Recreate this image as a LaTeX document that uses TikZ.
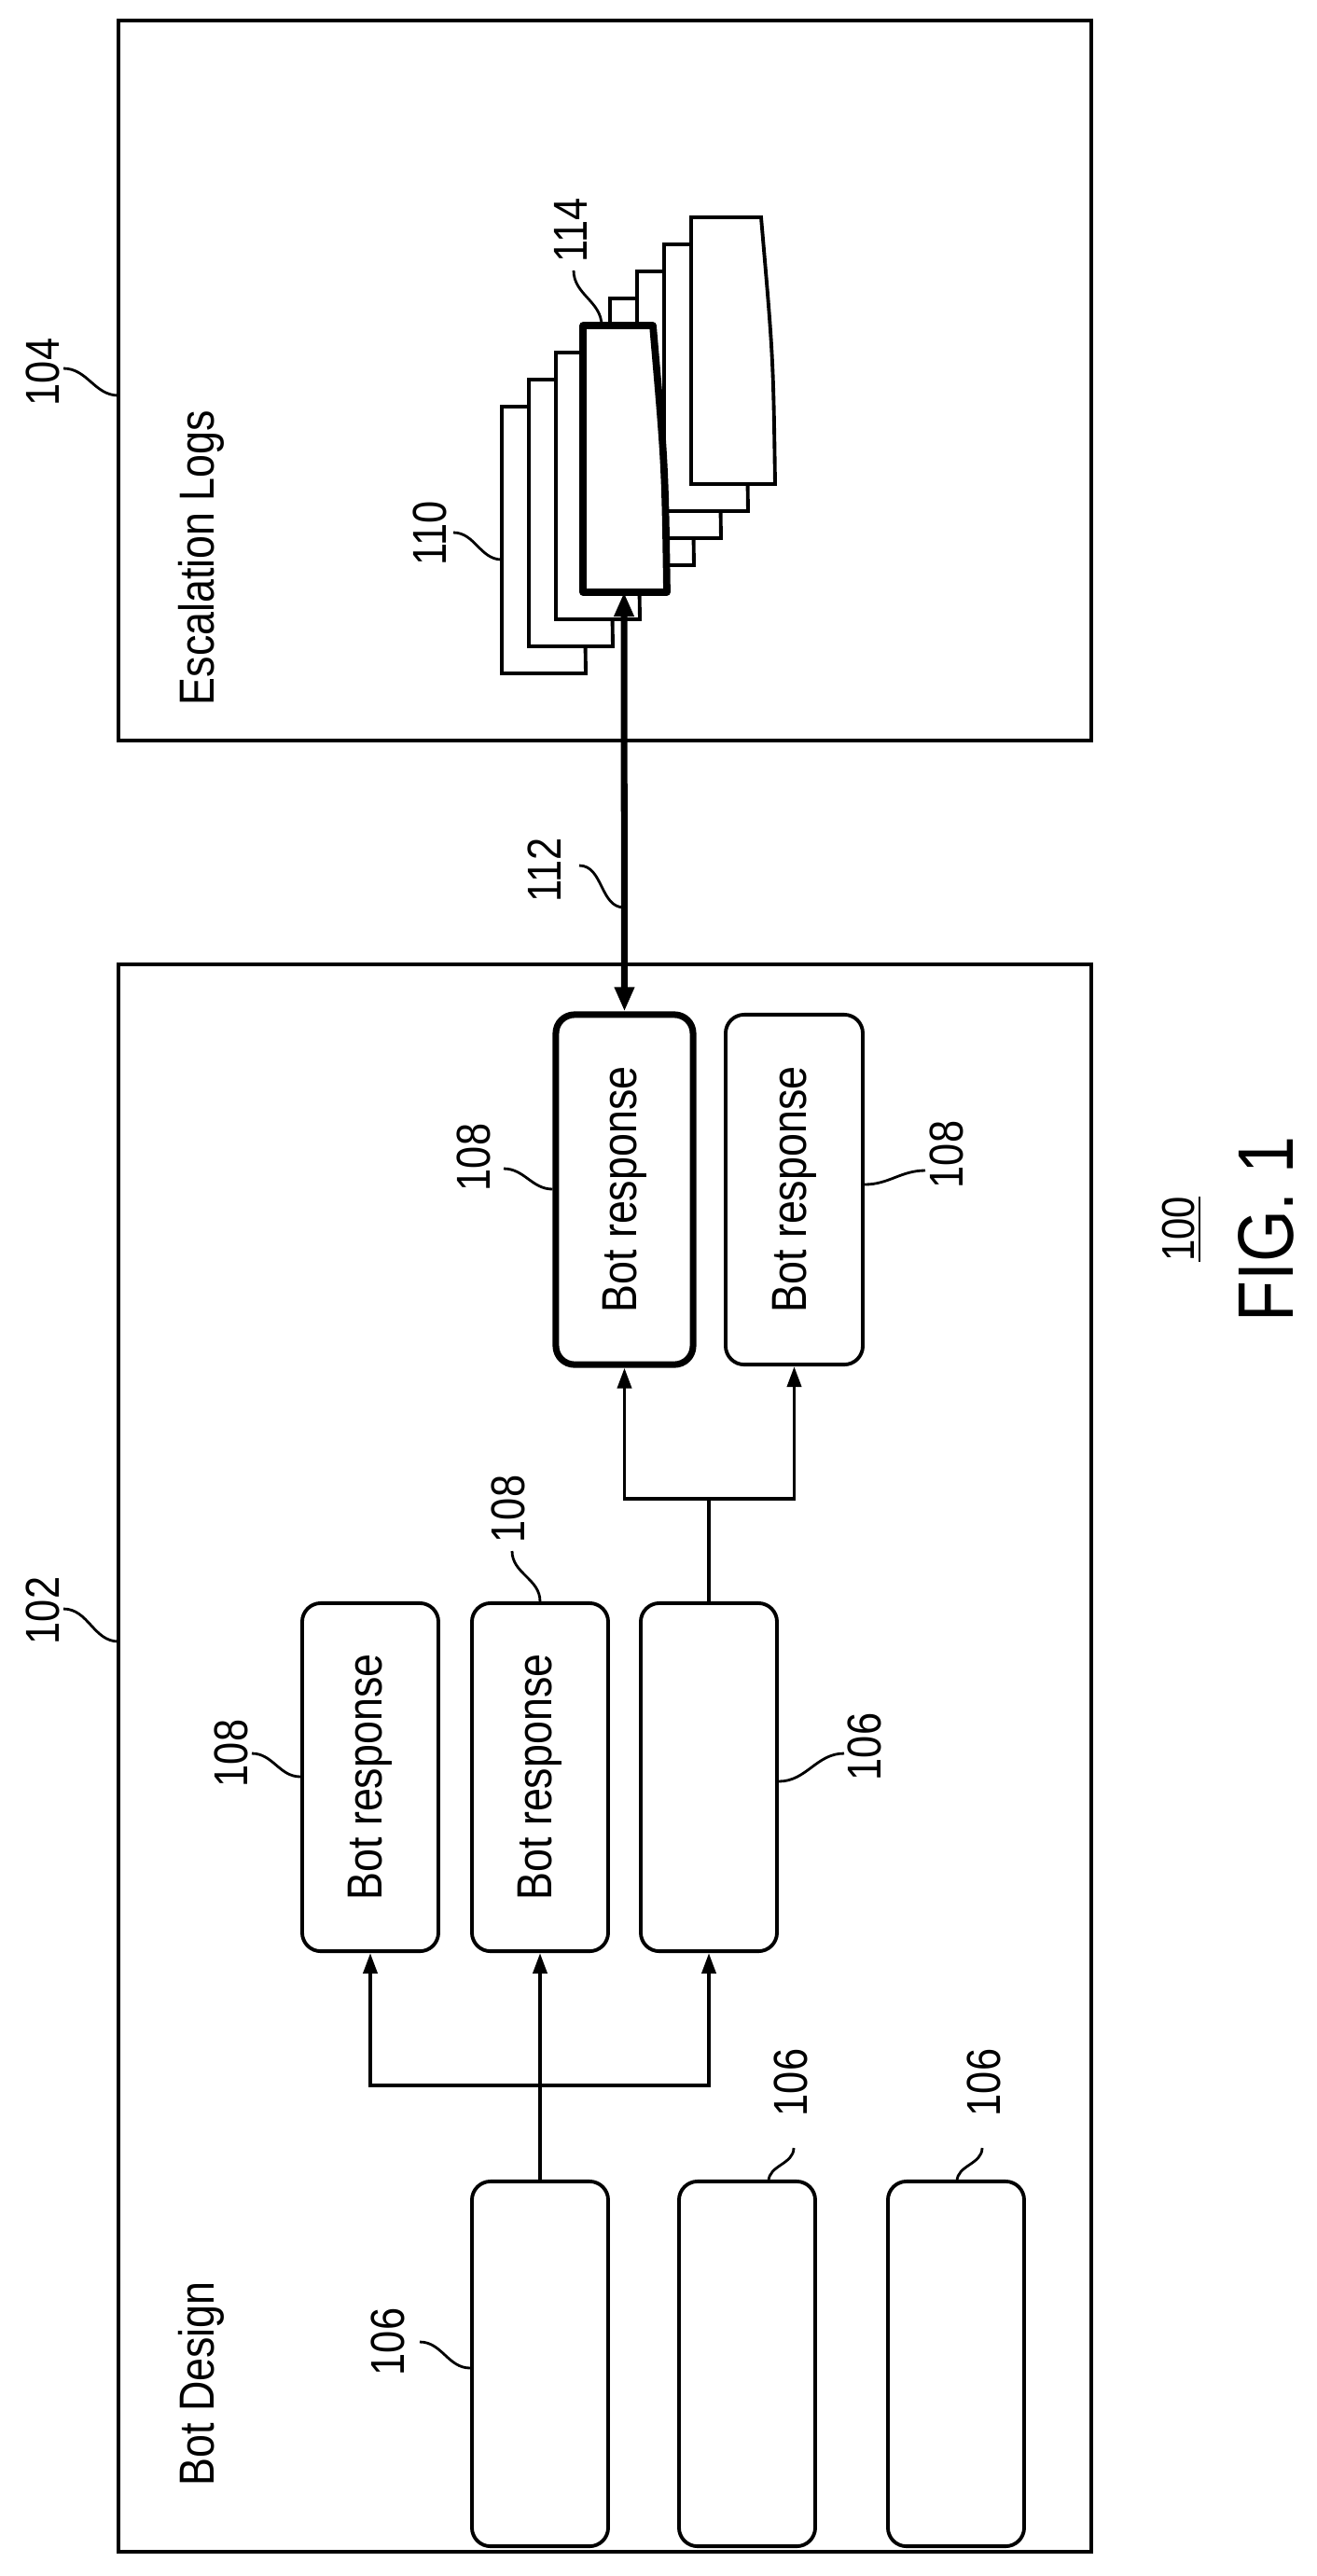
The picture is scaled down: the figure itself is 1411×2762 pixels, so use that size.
\documentclass[tikz,border=0pt]{standalone}
\usepackage{fontspec}
\setmainfont{Liberation Sans}[FakeStretch=0.85]
\usetikzlibrary{arrows.meta}

\tikzset{
  box/.style={draw, line width=1.1pt, rounded corners=0.2cm, inner sep=0pt},
  txt/.style={rotate=90, font=\fontsize{15}{18}\selectfont, inner sep=0pt},
  lbl/.style={rotate=90, font=\fontsize{14.5}{17}\selectfont, inner sep=0pt},
  lead/.style={line width=0.8pt},
  arr/.style={line width=1.1pt, -{Triangle[length=0.22cm,width=0.15cm]}},
  bigarr/.style={line width=2pt, {Triangle[length=0.26cm,width=0.2cm]}-{Triangle[length=0.26cm,width=0.2cm]}}
}

\begin{document}
\begin{tikzpicture}[x=0.01cm, y=-0.01cm]
\useasboundingbox (0,0) rectangle (1411,2762);

% frames
\draw[line width=1.1pt] (127,22) rectangle (1170,794);
\draw[line width=1.1pt] (127,1034) rectangle (1170,2736);
\node[txt] at (216,598) {Escalation Logs};
\node[txt] at (216,2556) {Bot Design};
\node[lbl] (n104) at (46,399) {104};
\node[lbl] (n102) at (46,1727) {102};
\draw[lead] (68,395) to[out=0,in=180] (127,424);
\draw[lead] (68,1725) to[out=0,in=180] (127,1760);

% escalation log stack
\foreach \i in {0,1,2,4,5,6,7} {
  \draw[line width=1.1pt, fill=white] (538+29*\i,436-29*\i) -- (538+29*\i+75,436-29*\i)
    .. controls (538+29*\i+88,436-29*\i+150) .. (538+29*\i+90,722-29*\i) -- (538+29*\i,722-29*\i) -- cycle;
}
\draw[line width=2.2pt, fill=white, line join=round] (625,349) -- (700,349)
  .. controls (713,499) .. (715,635) -- (625,635) -- cycle;
\coordinate (log) at (669,635);
\node[lbl] (n110) at (461,572) {110};
\node[lbl] (n114) at (612,247) {114};
\draw[lead] (486,571) to[out=0,in=180] (538,600);
\draw[lead] (615,290) to[out=-90,in=90] (645,349);

% bot responses
\node[box, line width=2pt, minimum width=1.47cm, minimum height=3.75cm] (br3) at (669.5,1275.5) {};
\node[box, minimum width=1.47cm, minimum height=3.75cm] (br4) at (851.5,1275.5) {};
\node[box, minimum width=1.46cm, minimum height=3.73cm] (br1) at (397,1905.5) {};
\node[box, minimum width=1.46cm, minimum height=3.73cm] (br2) at (579,1905.5) {};
\node[box, minimum width=1.46cm, minimum height=3.73cm] (in2) at (760,1905.5) {};
\node[box, minimum width=1.46cm, minimum height=3.91cm] (in1) at (579,2534.5) {};
\node[box, minimum width=1.46cm, minimum height=3.91cm] (in3) at (801,2534.5) {};
\node[box, minimum width=1.46cm, minimum height=3.91cm] (in4) at (1025,2534.5) {};
\foreach \b in {br1,br2,br3,br4} \node[txt] at (\b) {Bot response};

% arrows
\draw[bigarr] (br3.north) -- (log);
\node[lbl] (n112) at (584,933) {112};
\draw[lead] (621,928) to[out=0,in=180] (669,973);

\coordinate (j1) at (579,2236);
\draw[arr] (in1.north) -- (br2.south);
\draw[arr] (j1) -| (br1.south);
\draw[arr] (j1) -| (in2.south);
\coordinate (j2) at (760,1607);
\draw[line width=1.1pt] (in2.north) -- (j2);
\draw[arr] (j2) -| (br3.south);
\draw[arr] (j2) -| (br4.south);

% reference numerals
\node[lbl] at (508,1241) {108};
\node[lbl] at (1015,1238) {108};
\node[lbl] at (248,1880) {108};
\node[lbl] at (545,1618) {108};
\node[lbl] at (927,1873) {106};
\node[lbl] at (416,2511) {106};
\node[lbl] at (848,2233) {106};
\node[lbl] at (1055,2233) {106};
\draw[lead] (540,1253) to[out=0,in=180] (br3.west |- 0,1275);
\draw[lead] (br4.east |- 0,1270) to[out=0,in=180] (992,1255);
\draw[lead] (270,1880) to[out=0,in=180] (br1.west |- 0,1905);
\draw[lead] (549,1663) to[out=-90,in=90] (br2.north);
\draw[lead] (in2.east |- 0,1910) to[out=0,in=180] (905,1880);
\draw[lead] (450,2511) to[out=0,in=180] (in1.west |- 0,2539);
\draw[lead] (824,2339) to[out=90,in=-90] (851,2303);
\draw[lead] (1026,2339) to[out=90,in=-90] (1053,2303);

% figure label
\node[lbl, font=\fontsize{14}{16}\selectfont] at (1267,1318) {\underline{100}};
\node[rotate=90, font=\fontsize{24}{28}\selectfont, inner sep=0pt] at (1357,1318) {FIG. 1};

\end{tikzpicture}
\end{document}
